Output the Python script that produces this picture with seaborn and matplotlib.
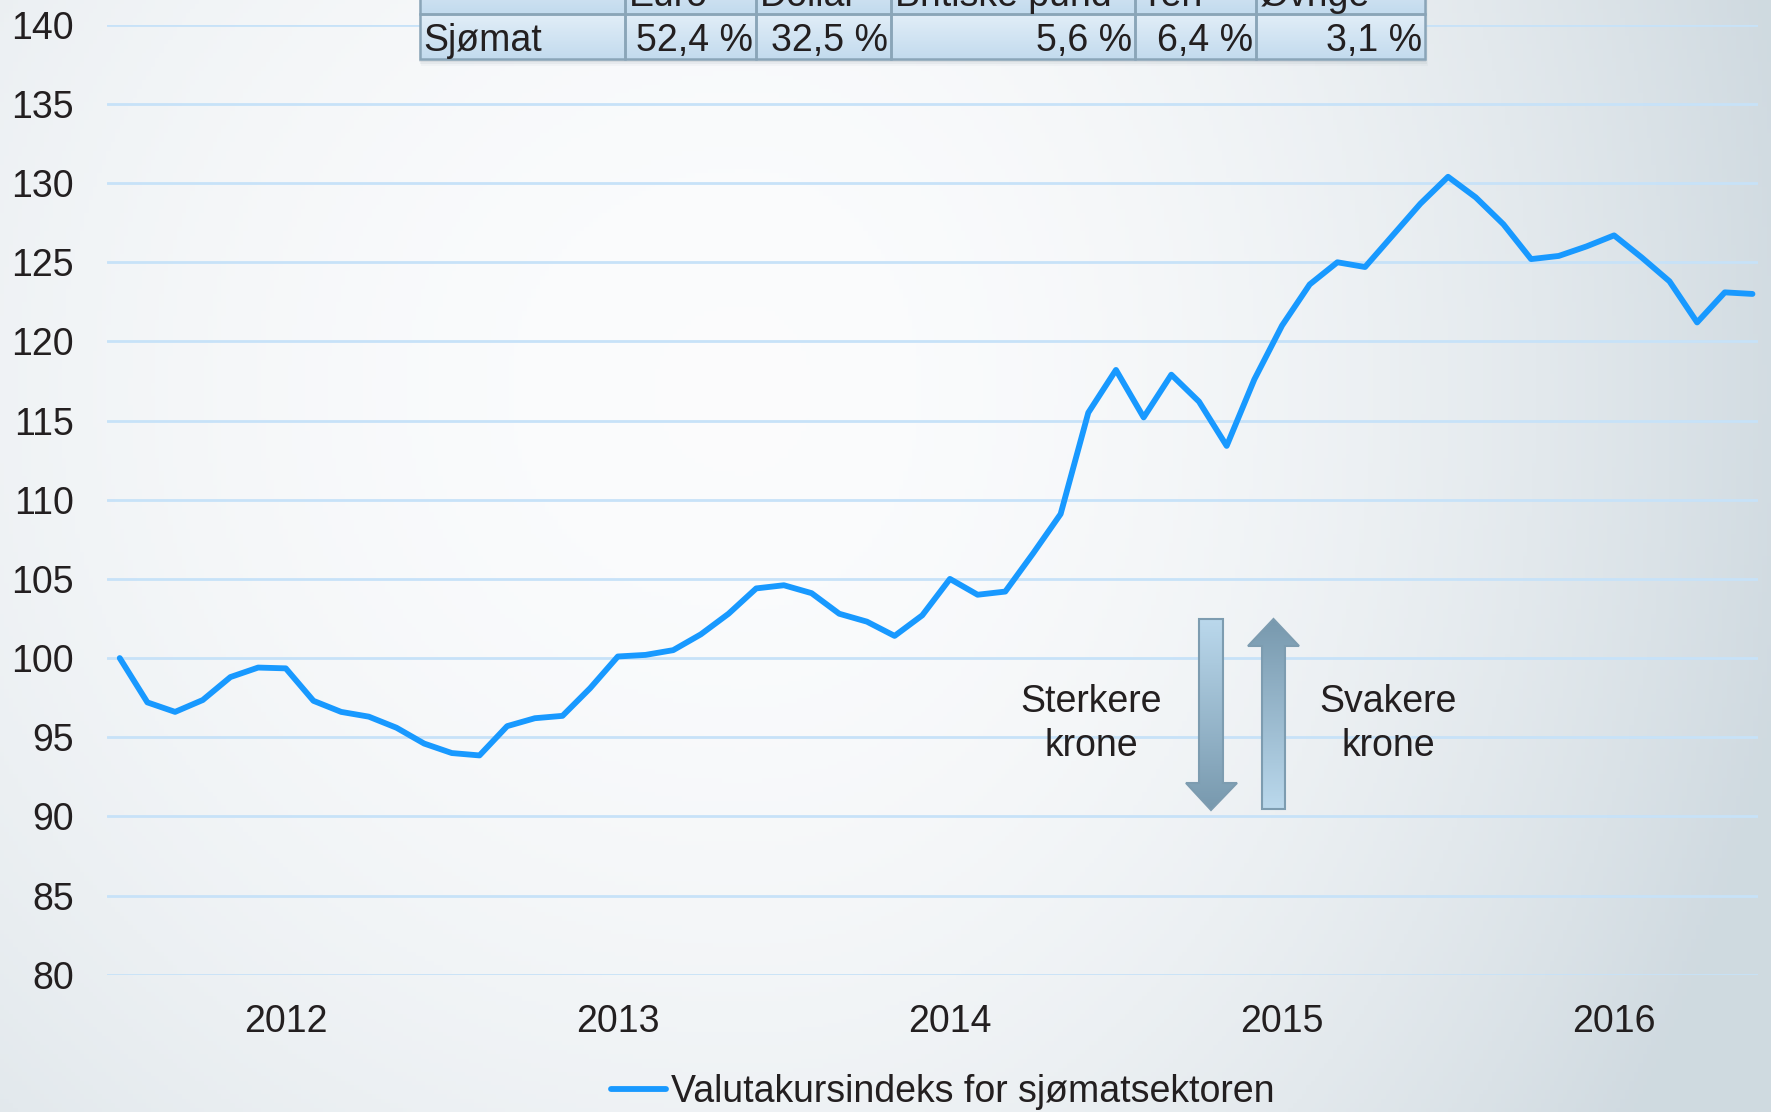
import numpy as np
import pandas as pd
import matplotlib
matplotlib.use("Agg")
import matplotlib.pyplot as plt
from matplotlib.patches import Rectangle, Polygon
from matplotlib.colors import LinearSegmentedColormap
import seaborn as sns

# Valutakursindeks for sjømatsektoren, monthly (first point = 100)
index_values = [
    100.0, 97.2, 96.6, 97.35, 98.8, 99.4, 99.35, 97.3, 96.6, 96.3,
    95.6, 94.6, 94.0, 93.85, 95.7, 96.2, 96.35, 98.1, 100.1, 100.2,
    100.5, 101.5, 102.8, 104.4, 104.6, 104.1, 102.8, 102.3, 101.4, 102.7,
    105.0, 104.0, 104.2, 106.6, 109.1, 115.5, 118.2, 115.2, 117.9, 116.2,
    113.4, 117.6, 121.0, 123.6, 125.0, 124.7, 126.7, 128.7, 130.4, 129.1,
    127.4, 125.2, 125.4, 126.0, 126.7, 125.3, 123.8, 121.2, 123.1, 123.0,
]
months = list(range(len(index_values)))
year_labels = ["2012", "2013", "2014", "2015", "2016"]
year_ticks = [6, 18, 30, 42, 54]
y_ticks = list(range(80, 141, 5))

# currency weights table
table_header = ["", "Euro", "Dollar", "Britiske pund", "Yen", "Øvrige"]
table_row = ["Sjømat", "52,4 %", "32,5 %", "5,6 %", "6,4 %", "3,1 %"]

df = pd.DataFrame({"month": months, "index": index_values})

W, H = 1771, 1112
TXT = "#231f20"
FS = 27

sns.set_theme(style="white")
plt.rcParams["font.family"] = ["Liberation Sans", "DejaVu Sans"]

fig = plt.figure(figsize=(W / 100, H / 100), dpi=100)

# background gradient
bg = fig.add_axes([0, 0, 1, 1], zorder=0)
gx, gy = np.meshgrid(np.linspace(0, 1, 400), np.linspace(0, 1, 250))
rx = np.where(gx < 0.42, 0.8, 0.6)
t = np.clip(((gx - 0.42) / rx) ** 2 + ((gy - 0.35) / 1.2) ** 2, 0, 1)
c0 = np.array([0.985, 0.988, 0.992])
c1 = np.array([0.815, 0.855, 0.88])
img = c0[None, None, :] * (1 - t[..., None]) + c1[None, None, :] * t[..., None]
bg.imshow(img, aspect="auto", extent=(0, 1, 1, 0))
bg.set_xlim(0, 1)
bg.set_ylim(1, 0)
bg.axis("off")

# main chart
ax = fig.add_axes([107 / W, 1 - 974.7 / H, (1758 - 107) / W, (974.7 - 24.8) / H], zorder=1)
ax.set_facecolor("none")
sns.lineplot(data=df, x="month", y="index", ax=ax, color="#1899ff", linewidth=4.2,
             label="Valutakursindeks for sjømatsektoren", legend=False,
             solid_joinstyle="round", solid_capstyle="round", zorder=3)
ax.set_xlim(-0.46, 59.2)
ax.set_ylim(80, 140)
ax.set_yticks(y_ticks)
ax.set_xticks(year_ticks)
ax.set_xticklabels(year_labels)
ax.yaxis.grid(True, color="#c7e2f8", linewidth=2)
ax.xaxis.grid(False)
for s in ax.spines.values():
    s.set_visible(False)
ax.tick_params(axis="y", length=0, pad=24, labelsize=FS, labelcolor=TXT)
ax.tick_params(axis="x", length=0, pad=21, labelsize=FS, labelcolor=TXT)
ax.set_xlabel("")
ax.set_ylabel("")

handles, labels = ax.get_legend_handles_labels()
fig.legend(handles, labels, loc="center", bbox_to_anchor=(943 / W, 1 - 1092 / H),
           frameon=False, fontsize=FS, handlelength=1.45, handletextpad=0.15,
           labelcolor=TXT)

# overlay in pixel coordinates for table and arrows
ov = fig.add_axes([0, 0, 1, 1], zorder=5)
ov.set_xlim(0, W)
ov.set_ylim(H, 0)
ov.axis("off")
ov.patch.set_alpha(0)

col_edges = [420, 625, 756, 891, 1135, 1256, 1425]
row_edges = [-32, 13.5, 59]
cell_cmap = LinearSegmentedColormap.from_list("cell", ["#e2eef8", "#c3dbee"])
# shadow
for k, a in enumerate([0.10, 0.07, 0.04]):
    ov.add_patch(Rectangle((col_edges[0] - 1 + k, row_edges[0]), col_edges[-1] - col_edges[0] + 2,
                           row_edges[-1] - row_edges[0] + 3 + 2 * k, facecolor="#5a6e7c",
                           edgecolor="none", alpha=a, zorder=1))
for r in range(2):
    y0, y1 = row_edges[r], row_edges[r + 1]
    ov.imshow(np.linspace(0, 1, 50).reshape(-1, 1), cmap=cell_cmap, aspect="auto",
              extent=(col_edges[0], col_edges[-1], y1, y0), origin="upper", zorder=2)
    for c in range(len(col_edges) - 1):
        ov.add_patch(Rectangle((col_edges[c], y0), col_edges[c + 1] - col_edges[c], y1 - y0,
                               facecolor="none", edgecolor="#8aa5b8", linewidth=1.8, zorder=3))
for c in range(len(col_edges) - 1):
    xl, xr = col_edges[c], col_edges[c + 1]
    ov.text(xl + 4, (row_edges[0] + row_edges[1]) / 2 + 5, table_header[c], ha="left",
            va="center", fontsize=FS, color=TXT, zorder=4)
    if c == 0:
        ov.text(xl + 3, (row_edges[1] + row_edges[2]) / 2 + 5, table_row[c], ha="left",
                va="center", fontsize=FS, color=TXT, zorder=4)
    else:
        ov.text(xr - 3, (row_edges[1] + row_edges[2]) / 2 + 5, table_row[c], ha="right",
                va="center", fontsize=FS, color=TXT, zorder=4)

# arrows with gradient fill
arrow_cmap = LinearSegmentedColormap.from_list("arr", ["#bad8ec", "#7899ae"])


def grad_arrow(pts, top, bottom, left, right, reverse):
    poly = Polygon(pts, closed=True, facecolor="none", edgecolor="#7d9cb0", linewidth=1.5, zorder=4)
    ov.add_patch(poly)
    g = np.linspace(0, 1, 100).reshape(-1, 1)
    if reverse:
        g = g[::-1]
    im = ov.imshow(g, cmap=arrow_cmap, aspect="auto", extent=(left, right, bottom, top),
                   origin="upper", zorder=3)
    im.set_clip_path(poly)


down = [(1199, 619), (1223, 619), (1223, 783), (1237, 783), (1211, 810),
        (1186, 783), (1199, 783)]
grad_arrow(down, 619, 810, 1186, 1237, False)
up = [(1273.5, 619), (1299, 646), (1285, 646), (1285, 809), (1262, 809),
      (1262, 646), (1248, 646)]
grad_arrow(up, 619, 809, 1248, 1299, True)

ov.text(1091, 724, "Sterkere\nkrone", ha="center", va="center", fontsize=FS, color=TXT,
        linespacing=1.25, zorder=4)
ov.text(1388, 724, "Svakere\nkrone", ha="center", va="center", fontsize=FS, color=TXT,
        linespacing=1.25, zorder=4)

fig.savefig("out.png", dpi=100)
